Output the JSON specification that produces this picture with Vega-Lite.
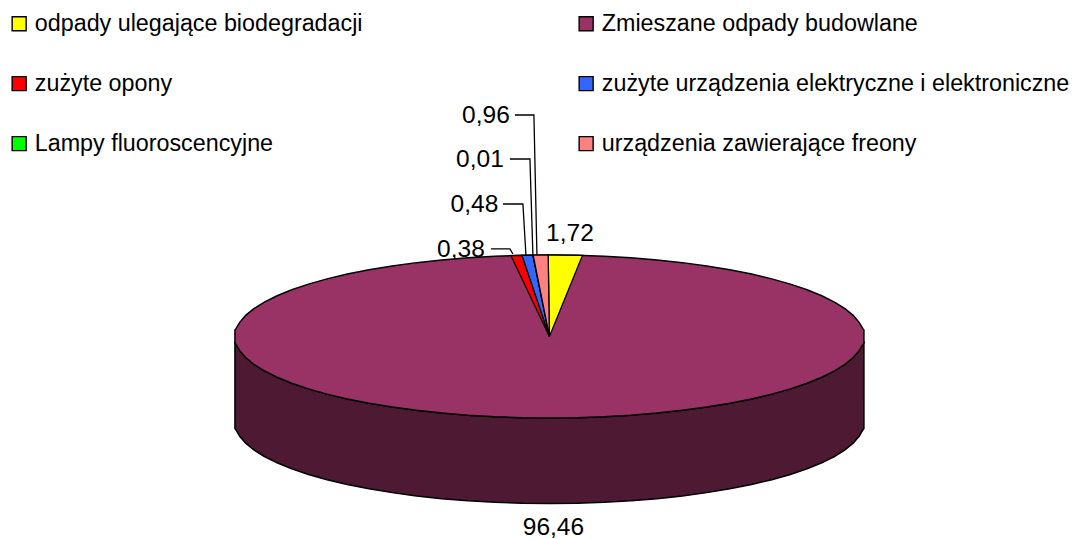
{"$schema":"https://vega.github.io/schema/vega-lite/v6.json","width":1074,"height":539,"padding":0,"autosize":{"type":"none"},"background":"white","config":{"view":{"stroke":null},"font":"Liberation Sans"},
"datasets":{
"rim":[
{"name":"Zmieszane odpady budowlane","u":-1,"up":0.08,"low":-0.08,"base":-1.13},
{"name":"Zmieszane odpady budowlane","u":-0.9962,"up":0.1,"low":-0.1,"base":-1.15},
{"name":"Zmieszane odpady budowlane","u":-0.9848,"up":0.1736,"low":-0.1736,"base":-1.2236},
{"name":"Zmieszane odpady budowlane","u":-0.9659,"up":0.2588,"low":-0.2588,"base":-1.3088},
{"name":"Zmieszane odpady budowlane","u":-0.9397,"up":0.342,"low":-0.342,"base":-1.392},
{"name":"Zmieszane odpady budowlane","u":-0.9063,"up":0.4226,"low":-0.4226,"base":-1.4726},
{"name":"Zmieszane odpady budowlane","u":-0.866,"up":0.5,"low":-0.5,"base":-1.55},
{"name":"Zmieszane odpady budowlane","u":-0.8192,"up":0.5736,"low":-0.5736,"base":-1.6236},
{"name":"Zmieszane odpady budowlane","u":-0.766,"up":0.6428,"low":-0.6428,"base":-1.6928},
{"name":"Zmieszane odpady budowlane","u":-0.7071,"up":0.7071,"low":-0.7071,"base":-1.7571},
{"name":"Zmieszane odpady budowlane","u":-0.6428,"up":0.766,"low":-0.766,"base":-1.816},
{"name":"Zmieszane odpady budowlane","u":-0.5736,"up":0.8192,"low":-0.8192,"base":-1.8692},
{"name":"Zmieszane odpady budowlane","u":-0.5,"up":0.866,"low":-0.866,"base":-1.916},
{"name":"Zmieszane odpady budowlane","u":-0.4226,"up":0.9063,"low":-0.9063,"base":-1.9563},
{"name":"Zmieszane odpady budowlane","u":-0.342,"up":0.9397,"low":-0.9397,"base":-1.9897},
{"name":"Zmieszane odpady budowlane","u":-0.2588,"up":0.9659,"low":-0.9659,"base":-2.0159},
{"name":"Zmieszane odpady budowlane","u":-0.1736,"up":0.9848,"low":-0.9848,"base":-2.0348},
{"name":"Zmieszane odpady budowlane","u":-0.0872,"up":0.9962,"low":-0.9962,"base":-2.0462},
{"name":"Zmieszane odpady budowlane","u":0,"up":1,"low":-1,"base":-2.05},
{"name":"Zmieszane odpady budowlane","u":0.0872,"up":0.9962,"low":-0.9962,"base":-2.0462},
{"name":"Zmieszane odpady budowlane","u":0.1736,"up":0.9848,"low":-0.9848,"base":-2.0348},
{"name":"Zmieszane odpady budowlane","u":0.2588,"up":0.9659,"low":-0.9659,"base":-2.0159},
{"name":"Zmieszane odpady budowlane","u":0.342,"up":0.9397,"low":-0.9397,"base":-1.9897},
{"name":"Zmieszane odpady budowlane","u":0.4226,"up":0.9063,"low":-0.9063,"base":-1.9563},
{"name":"Zmieszane odpady budowlane","u":0.5,"up":0.866,"low":-0.866,"base":-1.916},
{"name":"Zmieszane odpady budowlane","u":0.5736,"up":0.8192,"low":-0.8192,"base":-1.8692},
{"name":"Zmieszane odpady budowlane","u":0.6428,"up":0.766,"low":-0.766,"base":-1.816},
{"name":"Zmieszane odpady budowlane","u":0.7071,"up":0.7071,"low":-0.7071,"base":-1.7571},
{"name":"Zmieszane odpady budowlane","u":0.766,"up":0.6428,"low":-0.6428,"base":-1.6928},
{"name":"Zmieszane odpady budowlane","u":0.8192,"up":0.5736,"low":-0.5736,"base":-1.6236},
{"name":"Zmieszane odpady budowlane","u":0.866,"up":0.5,"low":-0.5,"base":-1.55},
{"name":"Zmieszane odpady budowlane","u":0.9063,"up":0.4226,"low":-0.4226,"base":-1.4726},
{"name":"Zmieszane odpady budowlane","u":0.9397,"up":0.342,"low":-0.342,"base":-1.392},
{"name":"Zmieszane odpady budowlane","u":0.9659,"up":0.2588,"low":-0.2588,"base":-1.3088},
{"name":"Zmieszane odpady budowlane","u":0.9848,"up":0.1736,"low":-0.1736,"base":-1.2236},
{"name":"Zmieszane odpady budowlane","u":0.9962,"up":0.1,"low":-0.1,"base":-1.15},
{"name":"Zmieszane odpady budowlane","u":1,"up":0.08,"low":-0.08,"base":-1.13}
],
"wedges":[
{"name":"odpady ulegające biodegradacji","u":-0.004,"up":1,"low":1},
{"name":"odpady ulegające biodegradacji","u":0,"up":1,"low":0},
{"name":"odpady ulegające biodegradacji","u":0.105,"up":0.9945,"low":0.9945},
{"name":"zużyte opony","u":-0.1224,"up":0.9925,"low":0.9925},
{"name":"zużyte opony","u":-0.0874,"up":0.9962,"low":0.7087},
{"name":"zużyte opony","u":0,"up":0,"low":0},
{"name":"zużyte urządzenia elektryczne i elektroniczne","u":-0.0874,"up":0.9962,"low":0.9962},
{"name":"zużyte urządzenia elektryczne i elektroniczne","u":-0.0525,"up":0.9986,"low":0.5984},
{"name":"zużyte urządzenia elektryczne i elektroniczne","u":0,"up":0,"low":0},
{"name":"Lampy fluoroscencyjne","u":-0.0525,"up":0.9986,"low":0.9986},
{"name":"Lampy fluoroscencyjne","u":-0.0518,"up":0.9987,"low":0.9853},
{"name":"Lampy fluoroscencyjne","u":0,"up":0,"low":0},
{"name":"urządzenia zawierające freony","u":-0.0518,"up":0.9987,"low":0.9987},
{"name":"urządzenia zawierające freony","u":-0.004,"up":1,"low":0.0771},
{"name":"urządzenia zawierające freony","u":0,"up":0,"low":0}
],
"leaders":[
{"name":"urządzenia zawierające freony","seq":1,"u":-0.1097,"v":2.718},
{"name":"urządzenia zawierające freony","seq":2,"u":-0.0493,"v":2.718},
{"name":"urządzenia zawierające freony","seq":3,"u":-0.0397,"v":1},
{"name":"Lampy fluoroscencyjne","seq":1,"u":-0.1256,"v":2.178},
{"name":"Lampy fluoroscencyjne","seq":2,"u":-0.062,"v":2.178},
{"name":"Lampy fluoroscencyjne","seq":3,"u":-0.0525,"v":1},
{"name":"zużyte urządzenia elektryczne i elektroniczne","seq":1,"u":-0.1479,"v":1.626},
{"name":"zużyte urządzenia elektryczne i elektroniczne","seq":2,"u":-0.0843,"v":1.626},
{"name":"zużyte urządzenia elektryczne i elektroniczne","seq":3,"u":-0.0747,"v":1},
{"name":"zużyte opony","seq":1,"u":-0.186,"v":1.074},
{"name":"zużyte opony","seq":2,"u":-0.1256,"v":1.074},
{"name":"zużyte opony","seq":3,"u":-0.1161,"v":1.012}
],
"labels":[
{"name":"odpady ulegające biodegradacji","value":1.72,"label":"1,72","u":0.0652,"v":1.27},
{"name":"Zmieszane odpady budowlane","value":96.46,"label":"96,46","u":0.0127,"v":-2.337},
{"name":"zużyte opony","value":0.38,"label":"0,38","u":-0.2814,"v":1.074},
{"name":"zużyte urządzenia elektryczne i elektroniczne","value":0.48,"label":"0,48","u":-0.2385,"v":1.626},
{"name":"Lampy fluoroscencyjne","value":0.01,"label":"0,01","u":-0.221,"v":2.178},
{"name":"urządzenia zawierające freony","value":0.96,"label":"0,96","u":-0.2019,"v":2.718}
]},
"encoding":{
"x":{"field":"u","type":"quantitative","axis":null,"scale":{"domain":[-1.747,1.668],"nice":false,"zero":false}}
},
"layer":[
{"data":{"name":"rim"},"mark":{"type":"area","color":"#4D1933","stroke":"black","strokeWidth":1.5,"line":false},
"encoding":{"y":{"field":"low","type":"quantitative","stack":null,"axis":null,"scale":{"domain":[-2.485,4.129],"nice":false,"zero":false}},"y2":{"field":"base"}}},
{"data":{"name":"rim"},"mark":{"type":"area","stroke":"black","strokeWidth":1.5},
"encoding":{"y":{"field":"up","type":"quantitative","stack":null,"axis":null},"y2":{"field":"low"},
"color":{"field":"name","type":"nominal","scale":{"domain":["odpady ulegające biodegradacji","Zmieszane odpady budowlane","zużyte opony","zużyte urządzenia elektryczne i elektroniczne","Lampy fluoroscencyjne","urządzenia zawierające freony"],"range":["#FFFF00","#993366","#FF0000","#3366FF","#00FF00","#FF8080"]},
"legend":{"title":null,"orient":"none","direction":"horizontal","legendX":7.5,"legendY":12,"columns":2,"columnPadding":211,"rowPadding":36,"symbolType":"square","symbolSize":196,"symbolStrokeColor":"black","symbolStrokeWidth":1.4,"symbolOpacity":1,"labelFont":"Liberation Sans","labelFontSize":23.3,"labelColor":"black","labelLimit":600,"labelOffset":4,"gridAlign":"each"}}}},
{"data":{"name":"wedges"},"mark":{"type":"area","stroke":"black","strokeWidth":1.3},
"encoding":{"y":{"field":"up","type":"quantitative","stack":null,"axis":null},"y2":{"field":"low"},"color":{"field":"name","type":"nominal"}}},
{"data":{"name":"leaders"},"mark":{"type":"line","color":"black","strokeWidth":1.3},
"encoding":{"y":{"field":"v","type":"quantitative","axis":null},"detail":{"field":"name"},"order":{"field":"seq","type":"ordinal"}}},
{"data":{"name":"labels"},"mark":{"type":"text","fontSize":24.5,"font":"Liberation Sans","color":"black","align":"center","baseline":"middle","dy":1},
"encoding":{"y":{"field":"v","type":"quantitative","axis":null},"text":{"field":"label","type":"nominal"}}}
],
"resolve":{"scale":{"color":"shared","y":"shared"}}}
